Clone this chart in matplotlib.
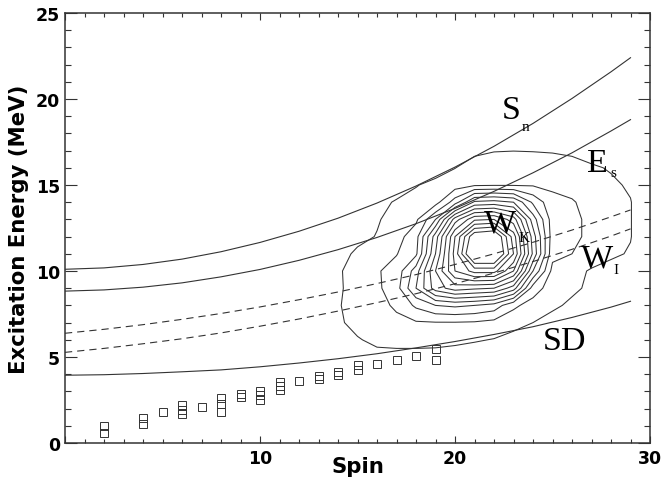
import numpy as np
import matplotlib
matplotlib.use("Agg")
import matplotlib.pyplot as plt
from matplotlib.ticker import MultipleLocator, FixedLocator

# theory curves at these spins
spin = [0, 2, 4, 6, 8, 10, 12, 14, 16, 18, 20, 22, 24, 26, 28, 29]
e_sn = [10.10, 10.18, 10.38, 10.69, 11.12, 11.66, 12.31, 13.07, 13.95, 14.94, 16.04, 17.25, 18.58, 20.03, 21.58, 22.40]
e_es = [8.83, 8.90, 9.06, 9.31, 9.66, 10.09, 10.62, 11.24, 11.95, 12.75, 13.64, 14.63, 15.71, 16.87, 18.14, 18.80]
e_wk = [6.38, 6.61, 6.88, 7.19, 7.53, 7.91, 8.33, 8.78, 9.27, 9.79, 10.38, 11.00, 11.67, 12.38, 13.15, 13.55]
e_wi = [5.27, 5.50, 5.77, 6.06, 6.40, 6.79, 7.21, 7.67, 8.16, 8.68, 9.26, 9.88, 10.55, 11.26, 12.03, 12.45]
e_sd = [3.94, 3.97, 4.04, 4.14, 4.25, 4.43, 4.65, 4.90, 5.19, 5.53, 5.90, 6.31, 6.76, 7.30, 7.90, 8.24]

# yrast levels (squares)
lev_spin = [2, 2, 4, 4, 5, 6, 6, 6, 7, 8, 8, 8, 9, 9, 10, 10, 10, 11, 11, 11,
            12, 13, 13, 14, 14, 15, 15, 16, 17, 18, 19, 19]
lev_e = [0.99, 0.58, 1.45, 1.10, 1.80, 2.20, 1.92, 1.68, 2.10, 2.61, 2.27, 1.82,
         2.84, 2.65, 3.03, 2.80, 2.51, 3.52, 3.29, 3.07, 3.61, 3.88, 3.71, 4.10,
         3.96, 4.52, 4.27, 4.58, 4.83, 5.05, 5.49, 4.83]

# coincidence intensity map (rows: energy 4..18, cols: spin 13..30)
grid_spin = list(range(13, 31))
grid_e = list(range(4, 19))
counts = [
    [0, 0, 0, 0, 0, 0, 0, 0, 0, 0, 0, 0, 0, 0, 0, 0, 0, 0],
    [0, 0, 0.3, 0.6, 0.65, 0.65, 0.6, 0.5, 0.4, 0.2, 0.1, 0, 0, 0, 0, 0, 0, 0],
    [0, 0.3, 0.9, 1.3, 1.35, 1.35, 1.35, 1.25, 1.1, 0.95, 0.6, 0.3, 0.1, 0, 0, 0, 0, 0],
    [0, 0.8, 1.4, 1.7, 1.85, 1.9, 1.95, 1.95, 1.9, 1.7, 1.4, 1.0, 0.6, 0.3, 0, 0, 0, 0],
    [0.1, 0.9, 1.5, 1.8, 2.1, 3.2, 4.0, 4.2, 4.0, 3.6, 2.2, 1.6, 1.2, 0.8, 0.3, 0, 0, 0],
    [0.3, 0.85, 1.4, 1.8, 2.6, 5.0, 7.5, 8.5, 8.2, 8.0, 6.5, 2.5, 1.5, 1.2, 0.8, 0.3, 0, 0],
    [0.3, 0.85, 1.5, 1.9, 2.4, 4.5, 8.0, 11, 12.4, 12.4, 10, 5.0, 1.7, 1.3, 0.9, 0.6, 0.3, 0],
    [0, 0.6, 1.2, 1.6, 1.95, 2.8, 7.0, 11.4, 16, 16, 12, 6.8, 2.3, 2.0, 1.5, 1.2, 0.9, 0],
    [0, 0.2, 0.7, 1.05, 1.6, 2.6, 6.5, 11, 15, 15.5, 11.5, 6.5, 2.5, 2.3, 1.7, 1.35, 1.05, 0],
    [0, 0, 0.3, 0.9, 1.4, 1.8, 4.0, 8.5, 10.8, 11, 9.5, 5.5, 2.5, 2.3, 1.7, 1.35, 1.05, 0],
    [0, 0, 0, 0.7, 1.1, 1.3, 1.6, 3.5, 6.2, 6.4, 6.0, 3.8, 2.3, 2.1, 1.6, 1.3, 1.05, 0],
    [0, 0, 0, 0, 0.5, 0.95, 1.25, 1.5, 1.85, 1.9, 1.9, 1.9, 1.8, 1.6, 1.4, 1.2, 0.85, 0],
    [0, 0, 0, 0, 0, 0, 0.6, 0.98, 1.4, 1.6, 1.7, 1.7, 1.6, 1.4, 1.15, 0.9, 0.5, 0],
    [0, 0, 0, 0, 0, 0, 0, 0.3, 0.8, 0.95, 0.98, 0.95, 0.9, 0.8, 0.5, 0.2, 0, 0],
    [0, 0, 0, 0, 0, 0, 0, 0, 0, 0, 0, 0, 0, 0, 0, 0, 0, 0],
]
contour_levels = list(range(1, 15))

ink = "#333333"
fig = plt.figure(figsize=(6.62, 4.85), dpi=100)
ax = fig.add_axes([65 / 662, 41 / 485, 585 / 662, 430 / 485])

ax.contour(grid_spin, grid_e, np.array(counts), levels=contour_levels,
           colors=ink, linewidths=0.75, linestyles="solid")

for e_vals in (e_sn, e_es, e_sd):
    ax.plot(spin, e_vals, color=ink, lw=0.8)
for e_vals in (e_wk, e_wi):
    ax.plot(spin, e_vals, color=ink, lw=0.8, linestyle=(0, (6.5, 4.5)))

ax.plot(lev_spin, lev_e, linestyle="none", marker="s", ms=5.5, mfc="none",
        mec=ink, mew=0.7)

# curve labels
serif = "Liberation Serif"
ax.text(22.9, 19.4, "S", fontsize=24.5, family=serif, ha="center", va="center")
ax.text(23.6, 18.4, "n", fontsize=11, family=serif, ha="center", va="center")
ax.text(27.3, 16.3, "E", fontsize=24.5, family=serif, ha="center", va="center")
ax.text(28.1, 15.75, "s", fontsize=11, family=serif, ha="center", va="center")
ax.text(22.3, 12.8, "W", fontsize=24.5, family=serif, ha="center", va="center")
ax.text(23.55, 11.95, "K", fontsize=11, family=serif, ha="center", va="center")
ax.text(27.3, 10.76, "W", fontsize=24.5, family=serif, ha="center", va="center")
ax.text(28.25, 10.1, "I", fontsize=11, family=serif, ha="center", va="center")
ax.text(25.6, 5.97, "SD", fontsize=24.5, family=serif, ha="center", va="center")

ax.set_xlim(0, 30)
ax.set_ylim(0, 25)
ax.xaxis.set_major_locator(FixedLocator([0, 10, 20, 30]))
ax.set_xticklabels(["", "10", "20", "30"])
ax.xaxis.set_minor_locator(MultipleLocator(1))
ax.yaxis.set_major_locator(MultipleLocator(5))
ax.yaxis.set_minor_locator(MultipleLocator(1))

ax.tick_params(which="both", direction="in", top=True, right=True,
               color=ink, width=0.8)
ax.tick_params(axis="x", which="major", length=5, pad=4)
ax.tick_params(axis="x", which="minor", length=3)
ax.tick_params(axis="y", which="major", length=8.6, pad=3.5)
ax.tick_params(axis="y", which="minor", length=4.3)
for lab in ax.get_xticklabels() + ax.get_yticklabels():
    lab.set_fontweight("bold")
    lab.set_fontsize(12.5)
    lab.set_family("DejaVu Sans")

for sp in ax.spines.values():
    sp.set_color(ink)
    sp.set_linewidth(1.1)

ax.set_xlabel("Spin", fontsize=15.3, fontweight="bold", family="DejaVu Sans")
ax.set_ylabel("Excitation Energy (MeV)", fontsize=15.3, fontweight="bold",
              family="DejaVu Sans")
ax.xaxis.set_label_coords(0.5, -0.03)
ax.yaxis.set_label_coords(-0.062, 0.5)

fig.savefig("out.png", dpi=100)
